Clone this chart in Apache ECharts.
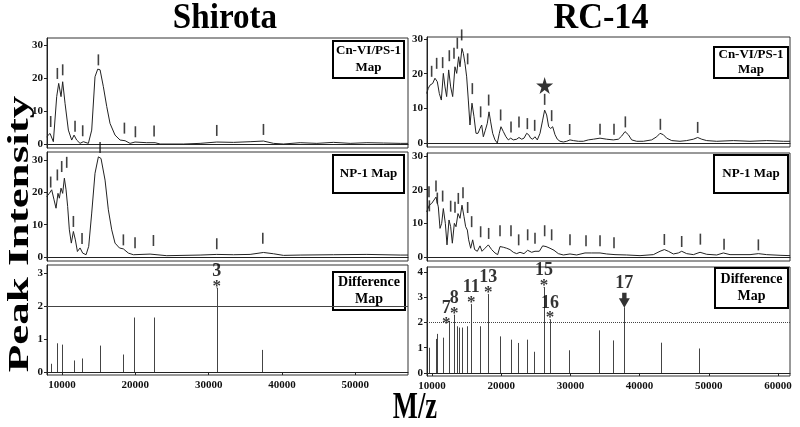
<!DOCTYPE html>
<html><head><meta charset="utf-8">
<script src="https://cdn.jsdelivr.net/npm/echarts@6/dist/echarts.min.js"></script>
<style>html,body{margin:0;padding:0;background:#fff}#c{width:800px;height:427px}</style>
</head><body><div id="c"></div>
<script>
// ---- data (m/z, intensity) ----
const shirotaCnCurve = [[7907,2.3],[8362,3.3],[8817,0.8],[9272,14.4],[9545,18.4],[9864,14.4],[10090,18.9],[10410,12.4],[10865,4.3],[11320,1.3],[11640,2.8],[12000,1.3],[12457,0.3],[12910,0.8],[13595,0.3],[14050,4.3],[14500,20.4],[14870,22.7],[15190,22.5],[15640,17.4],[16100,11.4],[16550,6.3],[17230,2.8],[17920,1.3],[18600,1.1],[19280,0.3],[19960,0.7],[21560,0.5],[22700,0.5],[23380,0.1],[26560,0.1],[28840,0.3],[31110,0.7],[33390,0.6],[35660,0.8],[37480,1.0],[38850,0.3],[40210,0.1],[42490,0.5],[44760,0.3],[47040,0.6],[49310,0.3],[51590,0.5],[53860,0.4],[56140,0.3],[57200,0.3]];
const shirotaCnTicks = [[8453,6.9],[9363,21.4],[10090,22.5],[11775,5.5],[12820,4.1],[14960,25.5],[18510,4.9],[20010,3.8],[22560,4.0],[31110,4.2],[37480,4.5]];
const shirotaNpCurve = [[7907,18.7],[8270,19.7],[8590,20.8],[8910,17.7],[9180,15.1],[9450,19.7],[9636,18.2],[9864,21.3],[10090,19.7],[10320,24.4],[10550,20.8],[10770,15.6],[11000,8.4],[11270,4.3],[11550,7.9],[11820,5.3],[12100,1.7],[12460,2.8],[12820,1.2],[13280,0.7],[13640,3.3],[14050,13.6],[14500,25.9],[14960,31.0],[15320,30.5],[15870,23.8],[16320,14.6],[16780,8.4],[17230,4.3],[17830,2.8],[18370,2.5],[19050,1.2],[19740,0.7],[22010,0.9],[24290,0.4],[28840,0.6],[31110,0.8],[33390,0.7],[35660,0.8],[37480,1.4],[38850,1.0],[40210,0.5],[42490,0.6],[47040,0.7],[51590,0.8],[56140,0.6],[57200,0.6]];
const shirotaNpTicks = [[8453,23.2],[9363,25.4],[9955,28.0],[10640,29.3],[11550,11.0],[12730,5.7],[15190,33.9],[18370,5.3],[19960,4.4],[22470,5.1],[31110,4.1],[37390,5.8]];
const shirotaDiff = [[8453,0.25],[9272,0.87],[10045,0.83],[11640,0.35],[12730,0.41],[15140,0.8],[18280,0.53],[19870,1.65],[22600,1.65],[31110,2.55],[37250,0.67]];
const shirotaMarked = [[31110,2.55,'3']];

const rcCnCurve = [[9230,14.3],[9470,15.8],[9710,16.7],[10100,17.2],[10430,18.7],[10770,17.7],[11060,14.3],[11350,12.4],[11640,20.1],[11880,16.2],[12120,13.4],[12410,21.1],[12700,16.2],[12990,13.4],[13320,22],[13570,20.1],[13850,24.9],[14050,22],[14330,27.3],[14530,25.9],[14770,23],[15010,19.1],[15250,12.4],[15490,5.2],[15780,11.5],[16070,7.6],[16360,2.8],[16650,2.8],[16940,4.2],[17180,5.2],[17420,1.8],[17710,3.7],[17995,5.7],[18240,9.0],[18480,6.1],[18770,2.8],[19100,0.9],[19440,0],[19730,2.8],[19970,4.7],[20310,3.3],[20690,1.8],[21030,0.9],[21370,1.4],[21750,0.9],[22235,1.1],[22570,1.6],[22960,1.1],[23300,1.4],[23680,2.8],[23970,2.4],[24260,1.4],[24550,1.1],[24880,1.8],[25220,0.9],[25610,2.8],[25990,6.6],[26280,9.5],[26570,8.1],[26860,4.7],[27150,4.2],[27440,4.7],[27775,2.4],[28110,1.1],[28500,0.5],[28980,0.3],[29460,0.5],[29940,0.9],[30420,0.7],[31150,0.5],[31870,0.5],[32590,0.9],[33315,1.1],[34280,1.4],[35240,1.1],[36205,0.9],[36930,1.1],[37410,2.0],[37890,3.3],[38370,2.4],[38850,0.9],[39580,0.5],[40540,0.5],[41740,0.9],[42470,1.8],[42950,2.8],[43430,2.4],[43910,1.4],[44640,0.7],[45840,0.5],[46800,0.7],[47770,1.1],[48390,1.6],[48970,1.1],[49690,0.7],[51140,0.5],[53550,0.7],[55950,0.5],[58360,0.7],[60770,0.5],[61740,0.5]];
const rcCnTicks = [[9950,20.7],[10675,23],[11540,23.2],[12505,25.2],[13180,25.9],[13660,28.8],[14290,31.2],[15155,24.3],[15830,15.7],[17030,9.0],[18190,12.4],[19920,8.1],[21420,4.6],[22570,6.1],[23780,5.6],[24840,5.1],[26280,12.6],[27290,7.9],[29895,3.9],[34280,4.0],[36300,4.0],[37940,6.1],[43000,5.4],[48390,4.5]];
const rcCnStar = [[26280,16.6]];
const rcNpCurve = [[9230,13.4],[9615,15.4],[9950,15.9],[10190,15.4],[10580,17.8],[10915,14.9],[11160,8.5],[11400,10],[11640,14.4],[11930,10],[12170,3.6],[12460,11],[12700,9],[12940,4.1],[13230,10],[13470,9],[13760,12.9],[14050,11.5],[14335,15.4],[14625,12],[14865,9],[15110,8],[15300,5.1],[15590,2.6],[15880,5.1],[16165,2.2],[16550,1.7],[16940,3.3],[17225,1.7],[17660,2.6],[18140,3.6],[18620,2.2],[19100,1.2],[19490,0.7],[19830,3.1],[20310,2.9],[20790,2.6],[21270,2.2],[21755,1.4],[22235,1.0],[22715,1.4],[23295,1.0],[23825,2.0],[24400,1.4],[24885,1.7],[25510,1.7],[25990,3.3],[26475,3.1],[27050,2.6],[27630,2.0],[28255,1.0],[28980,0.6],[29940,0.9],[30905,0.6],[32110,1.2],[33070,1.2],[34280,1.2],[35240,0.9],[36445,0.7],[38130,0.6],[40060,0.4],[41985,0.7],[42950,1.7],[43575,2.2],[44150,1.7],[44875,0.9],[45600,1.2],[46080,1.7],[46800,1.0],[47770,0.7],[48730,1.4],[49690,0.8],[51140,0.6],[52100,1.2],[53065,0.7],[55955,0.7],[57160,1.0],[58360,0.7],[60290,0.5],[61740,0.4]];
const rcNpTicks = [[9567,19.4],[9620,15.2],[10580,21.1],[10770,17.5],[11540,18.1],[12700,15.1],[13325,14.8],[13805,17.4],[14480,19.1],[15155,14.7],[15730,10.5],[17030,7.5],[18190,7.0],[19830,7.8],[21415,7.8],[22525,5.1],[23825,6.6],[24885,5.6],[26280,7.8],[27290,6.6],[29940,5.1],[32255,4.8],[34280,4.8],[36300,4.2],[43575,5.2],[46080,4.6],[48780,5.3],[52200,3.8],[57160,3.6]];
const rcDiff = [[9615,1.0],[10530,1.35],[10770,1.55],[11540,1.4],[12505,2.05],[13230,2.3],[13565,1.85],[13950,1.8],[14335,1.8],[15010,1.85],[15685,2.72],[16985,1.85],[18140,3.12],[19780,1.45],[21465,1.32],[22430,1.19],[23680,1.32],[24790,0.84],[26185,3.4],[27050,2.12],[29845,0.9],[34180,1.69],[36200,1.29],[37795,2.6],[43140,1.2],[48585,0.97]];
const rcMarked = [[12505,2.05,'7'],[13230,2.3,'8'],[15685,2.72,'11'],[18140,3.12,'13'],[26185,3.4,'15'],[27050,2.12,'16']];
const rcArrow = [[37795,2.6,'17']];
const threshold = 2;

const SERIF = '"Liberation Serif","DejaVu Serif",serif';
const chart = echarts.init(document.getElementById('c'), null, {renderer:'canvas'});

const grids = [
  {left:47, top:38, width:361, height:110},
  {left:427, top:37, width:363, height:110},
  {left:47, top:152, width:361, height:109},
  {left:427, top:153, width:363, height:108},
  {left:47, top:265, width:361, height:110},
  {left:427, top:267, width:363, height:109}
].map(g => Object.assign({show:true, borderColor:'#333', borderWidth:1, containLabel:false}, g));

const xr = [{min:7950,max:57200},{min:9280,max:61730}];
const xAxes = grids.map((g,i) => ({
  type:'value', gridIndex:i, min:xr[i%2].min, max:xr[i%2].max, splitNumber:5,
  axisLine:{show:true, lineStyle:{color:'#222'}}, splitLine:{show:false},
  axisTick:{show:i>=4, length:3, lineStyle:{color:'#222'}},
  axisLabel:{show:i>=4, color:'#111', fontFamily:SERIF, fontWeight:'bold', fontSize:11, margin:5,
    showMinLabel:false, showMaxLabel:false,
    formatter: v => (Math.abs(v % 10000) < 1e-6 ? String(v) : '')}
}));
const yr = [[-1.1,32.1],[-1.15,30.6],[-1.24,32.5],[-1.19,30.9],[-0.09,3.24],[-0.12,4.2]];
const ySplit = [3,3,3,3,3,4];
const yStep = [10,10,10,10,1,1];
const yAxes = grids.map((g,i) => ({
  type:'value', gridIndex:i, min:yr[i][0], max:yr[i][1], splitNumber:ySplit[i],
  axisLine:{show:true, lineStyle:{color:'#222'}}, splitLine:{show:false},
  axisTick:{show:true, length:3, lineStyle:{color:'#222'}},
  axisLabel:{color:'#111', fontFamily:SERIF, fontWeight:'bold', fontSize:11, margin:4,
    showMinLabel:false, showMaxLabel:false,
    formatter: v => (v >= -1e-6 && Math.abs(v/yStep[i] - Math.round(v/yStep[i])) < 1e-6 ? String(Math.round(v)) : '')}
}));

function curve(i, data){
  return {type:'line', xAxisIndex:i, yAxisIndex:i, data:data, showSymbol:false, symbol:'none',
    lineStyle:{color:'#222', width:1}, silent:true, animation:false};
}
function ticks(i, data){
  return {type:'scatter', xAxisIndex:i, yAxisIndex:i, data:data, symbol:'rect', symbolSize:[1.6,11],
    itemStyle:{color:'#111'}, clip:false, silent:true, animation:false};
}
function stems(i, data){
  return {type:'custom', xAxisIndex:i, yAxisIndex:i, data:data, animation:false, silent:true,
    renderItem:(params, api) => {
      const p0 = api.coord([api.value(0), 0]);
      const p1 = api.coord([api.value(0), api.value(1)]);
      const x = Math.round(p0[0]) + 0.5;
      return {type:'line', shape:{x1:x, y1:p0[1], x2:x, y2:p1[1]}, style:{stroke:'#444', lineWidth:1}};
    }};
}
function marks(i, data, lineType){
  return {type:'scatter', xAxisIndex:i, yAxisIndex:i, symbolSize:1, itemStyle:{color:'#222'},
    clip:false, animation:false, silent:true,
    data:data.map(d => d[2] === '7' ? {value:d, label:{offset:[-3,4]}} : {value:d}),
    label:{show:true, position:'top', distance:-6, color:'#000',
      formatter: p => '{n|' + p.value[2] + '}\n{s|*}',
      rich:{n:{color:'#000', fontFamily:SERIF, fontWeight:'bold', fontSize:18, lineHeight:16, align:'center'},
            s:{color:'#000', fontFamily:SERIF, fontWeight:'bold', fontSize:17, lineHeight:14, align:'center'}}},
    markLine:{symbol:'none', silent:true, animation:false, label:{show:false},
      lineStyle:{color:'#444', type:lineType, width:1}, data:[{yAxis:threshold}]}};
}

const option = {
  animation:false, backgroundColor:'#fff',
  grid:grids, xAxis:xAxes, yAxis:yAxes,
  series:[
    curve(0, shirotaCnCurve), ticks(0, shirotaCnTicks),
    curve(1, rcCnCurve), ticks(1, rcCnTicks),
    {type:'scatter', xAxisIndex:1, yAxisIndex:1, data:rcCnStar, clip:false, silent:true,
     symbol:'path://M50,0 L61,35 L98,35 L68,57 L79,91 L50,70 L21,91 L32,57 L2,35 L39,35 Z',
     symbolSize:17, itemStyle:{color:'#000'}},
    curve(2, shirotaNpCurve), ticks(2, shirotaNpTicks),
    curve(3, rcNpCurve), ticks(3, rcNpTicks),
    stems(4, shirotaDiff), marks(4, shirotaMarked, 'solid'),
    stems(5, rcDiff), marks(5, rcMarked, 'dotted'),
    {type:'scatter', xAxisIndex:5, yAxisIndex:5, data:rcArrow, clip:false, silent:true,
     symbol:'path://M3,0 L7,0 L7,5 L10,5 L5,14 L0,5 L3,5 Z', symbolSize:[11,15], symbolOffset:[0,-7],
     itemStyle:{color:'#000'},
     label:{show:true, position:'top', distance:1, color:'#000', formatter:p => p.value[2],
       fontFamily:SERIF, fontWeight:'bold', fontSize:18}}
  ],
  graphic:[
    {type:'text', x:225, y:19, scaleX:0.92, style:{text:'Shirota', font:'bold 36px '+SERIF, fill:'#000', align:'center', verticalAlign:'middle'}},
    {type:'text', x:601, y:19, scaleX:0.95, style:{text:'RC-14', font:'bold 36px '+SERIF, fill:'#000', align:'center', verticalAlign:'middle'}},
    {type:'text', x:20, y:234, rotation:Math.PI/2, scaleY:0.65, style:{text:'Peak Intensity', font:'bold 45px '+SERIF, fill:'#000', align:'center', verticalAlign:'middle'}},
    {type:'text', x:415, y:408, scaleX:0.7, style:{text:'M/z', font:'bold 38px '+SERIF, fill:'#000', align:'center', verticalAlign:'middle'}},
    // legend boxes
    {type:'rect', shape:{x:333, y:41, width:71, height:37}, style:{fill:'#fff', stroke:'#000', lineWidth:2}},
    {type:'text', x:368.5, y:59.5, style:{text:'Cn-VI/PS-1\nMap', font:'bold 13px '+SERIF, lineHeight:17, fill:'#000', align:'center', verticalAlign:'middle'}},
    {type:'rect', shape:{x:714, y:47, width:74, height:31}, style:{fill:'#fff', stroke:'#000', lineWidth:2}},
    {type:'text', x:751, y:62.5, style:{text:'Cn-VI/PS-1\nMap', font:'bold 13px '+SERIF, lineHeight:15, fill:'#000', align:'center', verticalAlign:'middle'}},
    {type:'rect', shape:{x:333, y:155, width:71, height:38}, style:{fill:'#fff', stroke:'#000', lineWidth:2}},
    {type:'text', x:368.5, y:174, style:{text:'NP-1 Map', font:'bold 13px '+SERIF, fill:'#000', align:'center', verticalAlign:'middle'}},
    {type:'rect', shape:{x:714, y:155, width:74, height:38}, style:{fill:'#fff', stroke:'#000', lineWidth:2}},
    {type:'text', x:751, y:174, style:{text:'NP-1 Map', font:'bold 13px '+SERIF, fill:'#000', align:'center', verticalAlign:'middle'}},
    {type:'rect', shape:{x:333, y:272, width:72, height:38}, style:{fill:'#fff', stroke:'#000', lineWidth:2}},
    {type:'text', x:369, y:291, style:{text:'Difference\nMap', font:'bold 14px '+SERIF, lineHeight:17, fill:'#000', align:'center', verticalAlign:'middle'}},
    {type:'rect', shape:{x:715, y:268, width:73, height:40}, style:{fill:'#fff', stroke:'#000', lineWidth:2}},
    {type:'text', x:751.5, y:288, style:{text:'Difference\nMap', font:'bold 14px '+SERIF, lineHeight:17, fill:'#000', align:'center', verticalAlign:'middle'}}
  ]
};
chart.setOption(option);
</script>
</body></html>
